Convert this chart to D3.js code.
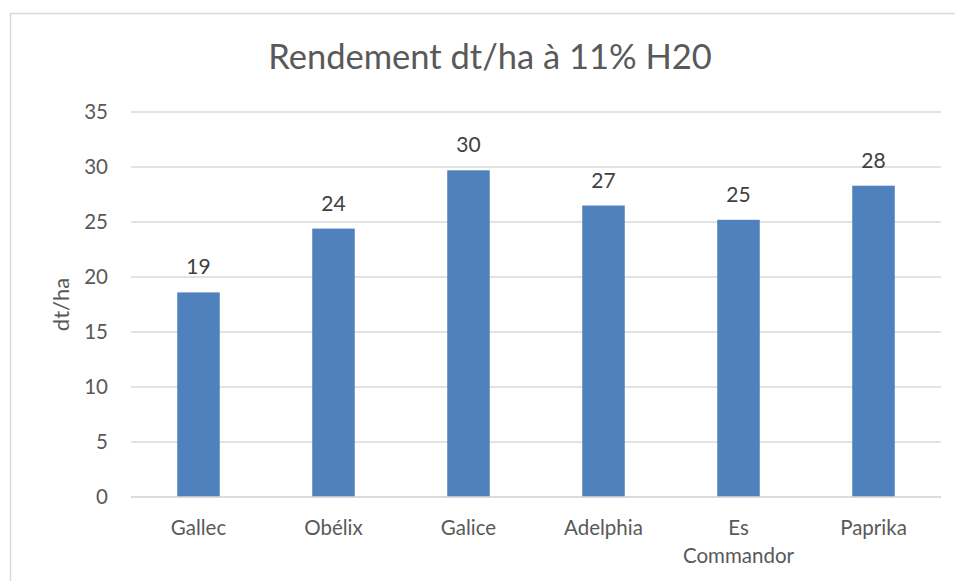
<!DOCTYPE html>
<html>
<head>
<meta charset="utf-8">
<script src="https://cdn.jsdelivr.net/npm/d3@7"></script>
<style>
  body { margin: 0; background: #fff; }
  svg { display: block; font-family: Lato, "Noto Sans", sans-serif; }
</style>
</head>
<body>
<svg id="chart"></svg>
<script>
const categories = ["Gallec", "Obélix", "Galice", "Adelphia", "Es Commandor", "Paprika"]
const values = [18.6, 24.4, 29.7, 26.5, 25.2, 28.3]
const yTicks = [0, 5, 10, 15, 20, 25, 30, 35]
const title = "Rendement dt/ha à 11% H20"
const yTitle = "dt/ha"

const W = 955, H = 581
const m = {t: 112, b: 84, l: 131, r: 14}
const w = W - m.l - m.r
const h = H - m.t - m.b

const svg = d3.select("#chart")
    .attr("width", W)
    .attr("height", H)

// chart frame
svg.append("rect")
    .attr("x", 10.5).attr("y", 13.5)
    .attr("width", W + 20).attr("height", H + 20)
    .attr("fill", "none")
    .attr("stroke", "#d9d9d9")
    .attr("stroke-width", 1.5)

svg.append("text")
    .attr("x", 490).attr("y", 69)
    .attr("text-anchor", "middle")
    .attr("font-size", 34.5)
    .attr("fill", "#595959")
    .text(title)

const g = svg.append("g")
    .attr("transform", `translate(${m.l},${m.t})`)

const x = d3.scaleBand()
    .domain(categories)
    .range([0, w])
    .padding(0)

const y = d3.scaleLinear()
    .domain([0, 35])
    .range([h, 0])

// gridlines
g.append("g")
    .selectAll("line")
    .data(yTicks)
    .join("line")
    .attr("x1", 0).attr("x2", w)
    .attr("y1", d => y(d)).attr("y2", d => y(d))
    .attr("stroke", "#d9d9d9")
    .attr("stroke-width", 1.5)

const yAxis = g.append("g")
    .call(d3.axisLeft(y).tickValues(yTicks).tickSize(0).tickPadding(23))
yAxis.select(".domain").remove()
yAxis.selectAll("text")
    .attr("font-size", 20.5)
    .attr("font-family", "Lato, sans-serif")
    .attr("fill", "#595959")

const barW = x.bandwidth() * 0.315

g.selectAll("rect.bar")
    .data(values)
    .join("rect")
    .attr("class", "bar")
    .attr("x", (d, i) => x(categories[i]) + (x.bandwidth() - barW) / 2)
    .attr("y", d => y(d))
    .attr("width", barW)
    .attr("height", d => h - y(d))
    .attr("fill", "#4f81bd")

// data labels
g.selectAll("text.lbl")
    .data(values)
    .join("text")
    .attr("class", "lbl")
    .attr("x", (d, i) => x(categories[i]) + x.bandwidth() / 2)
    .attr("y", d => y(d) - 18)
    .attr("text-anchor", "middle")
    .attr("font-size", 21)
    .attr("fill", "#404040")
    .text(d => Math.round(d))

// x axis line
g.append("line")
    .attr("x1", 0).attr("x2", w)
    .attr("y1", h).attr("y2", h)
    .attr("stroke", "#d9d9d9")
    .attr("stroke-width", 1.5)

// category labels, wrapped
const cat = g.selectAll("text.cat")
    .data(categories)
    .join("text")
    .attr("class", "cat")
    .attr("text-anchor", "middle")
    .attr("font-size", 20.5)
    .attr("fill", "#595959")
    .attr("transform", d => `translate(${x(d) + x.bandwidth() / 2},${h + 38})`)

cat.selectAll("tspan")
    .data(d => d.split(" ").length > 1 && d.length > 10 ? d.split(" ") : [d])
    .join("tspan")
    .attr("x", 0)
    .attr("dy", (d, i) => i ? 28 : 0)
    .text(d => d)

svg.append("text")
    .attr("transform", `translate(69,${m.t + h / 2}) rotate(-90)`)
    .attr("text-anchor", "middle")
    .attr("font-size", 22)
    .attr("fill", "#595959")
    .text(yTitle)
</script>
</body>
</html>
